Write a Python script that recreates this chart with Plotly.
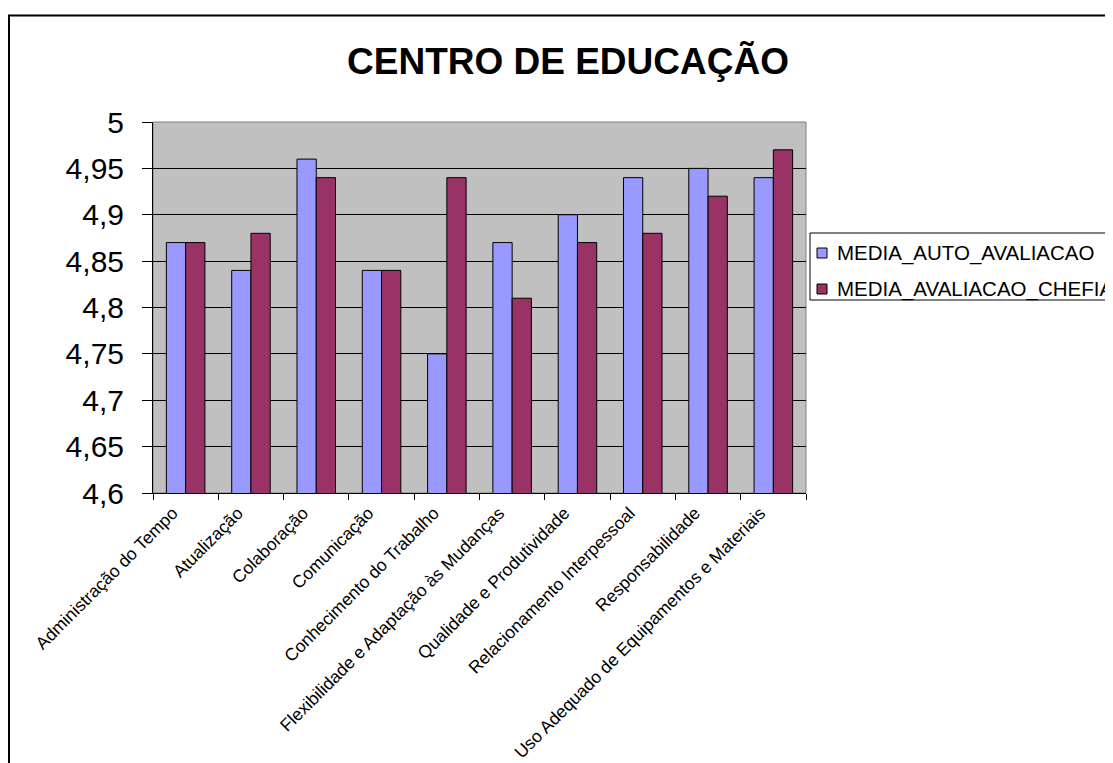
import plotly.graph_objects as go

categories = [
    "Administração do Tempo", "Atualização", "Colaboração", "Comunicação",
    "Conhecimento do Trabalho", "Flexibilidade e Adaptação às Mudanças",
    "Qualidade e Produtividade", "Relacionamento Interpessoal",
    "Responsabilidade", "Uso Adequado de Equipamentos e Materiais",
]
media_auto = [4.87, 4.84, 4.96, 4.84, 4.75, 4.87, 4.90, 4.94, 4.95, 4.94]
media_chefia = [4.87, 4.88, 4.94, 4.84, 4.94, 4.81, 4.87, 4.88, 4.92, 4.97]
series_names = ["MEDIA_AUTO_AVALIACAO", "MEDIA_AVALIACAO_CHEFIA"]
series_colors = ["#9999FF", "#993366"]
y_tickvals = [4.6, 4.65, 4.7, 4.75, 4.8, 4.85, 4.9, 4.95, 5.0]
y_ticktext = ["4,6", "4,65", "4,7", "4,75", "4,8", "4,85", "4,9", "4,95", "5"]

# page has an 8px body margin; coordinates below are figure pixels
W, H = 1113, 763
ml, mr, mt, mb = 145, W - 798, 114, H - 485
pw, ph = W - ml - mr, H - mt - mb


def px_x(p):
    return (p - ml) / pw


def px_y(p):
    return (H - mb - p) / ph


FONT = "Arial, Liberation Sans, sans-serif"

fig = go.Figure()
for name, vals, col in zip(series_names, [media_auto, media_chefia], series_colors):
    fig.add_trace(go.Bar(x=categories, y=vals, name=name, showlegend=False,
                         marker=dict(color=col, line=dict(color="black", width=1))))

fig.update_layout(
    width=W, height=H,
    margin=dict(l=ml, r=mr, t=mt, b=mb, autoexpand=False),
    paper_bgcolor="white", plot_bgcolor="#C0C0C0",
    barmode="group", bargap=0.41, bargroupgap=0,
    font=dict(family=FONT, color="black"),
    title=dict(text="<b>CENTRO DE EDUCAÇÃO</b>", x=560 / W,
               xanchor="center", y=1 - 53 / H, yanchor="middle",
               font=dict(size=37, family=FONT)),
)
fig.update_yaxes(range=[4.6, 5.0], tickvals=y_tickvals, ticktext=y_ticktext,
                 showgrid=True, gridcolor="black", gridwidth=1,
                 showline=True, linecolor="black", linewidth=1,
                 ticks="outside", ticklen=10, tickcolor="black",
                 ticklabelstandoff=12,
                 tickfont=dict(size=30, family=FONT), zeroline=False,
                 automargin=False)
fig.update_xaxes(showline=True, linecolor="black", linewidth=1,
                 ticks="outside", ticklen=6, tickcolor="black",
                 tickson="boundaries", tickangle=-45,
                 ticklabelshift=-13, ticklabelstandoff=2,
                 tickfont=dict(size=17.5, family=FONT), automargin=False)

# plot area border (gray top/right)
fig.add_shape(type="rect", xref="paper", yref="paper", x0=0, x1=1, y0=0, y1=1,
              line=dict(color="#808080", width=1), layer="below")
# outer chart frame
fig.add_shape(type="rect", xref="paper", yref="paper",
              x0=px_x(1), x1=px_x(1140), y0=px_y(790), y1=px_y(7.5),
              line=dict(color="black", width=2))

# legend box (drawn like the original, clipped at the right edge)
fig.add_shape(type="rect", xref="paper", yref="paper",
              x0=px_x(802), x1=px_x(1140), y0=px_y(292), y1=px_y(225),
              line=dict(color="black", width=1), fillcolor="white")
row_y = [245, 281]
for name, col, ry in zip(series_names, series_colors, row_y):
    fig.add_shape(type="rect", xref="paper", yref="paper",
                  x0=px_x(809), x1=px_x(819), y0=px_y(ry + 5), y1=px_y(ry - 5),
                  line=dict(color="black", width=1), fillcolor=col)
    fig.add_annotation(text=name, xref="paper", yref="paper",
                       x=px_x(827), y=px_y(ry), xanchor="left", yanchor="middle",
                       showarrow=False, font=dict(size=20.5, family=FONT))

fig.write_html("out.html")
